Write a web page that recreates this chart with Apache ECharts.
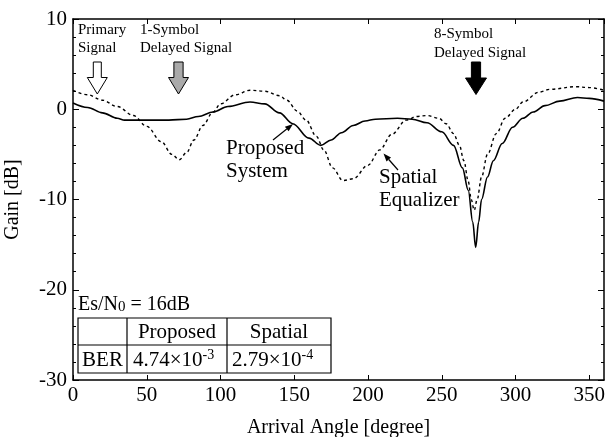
<!DOCTYPE html>
<html>
<head>
<meta charset="utf-8">
<script src="https://cdn.jsdelivr.net/npm/echarts@6/dist/echarts.min.js"></script>
<style>html,body{margin:0;padding:0;background:#fff;}#c{width:610px;height:437px;}</style>
</head>
<body>
<div id="c"></div>
<script>
// ---- data ----
var xTicks = [0, 50, 100, 150, 200, 250, 300, 350];
var yTicks = [-30, -20, -10, 0, 10];

var propAngle = [0, 10, 20, 30, 35, 50, 65, 77, 85, 95, 105, 120, 130, 140, 149, 160, 168, 175, 182, 190, 198, 205, 220, 230, 240, 250, 258, 264, 268, 271, 273, 275, 277, 281, 285, 291, 298, 305, 312, 320, 330, 342, 350, 360];
var propGain  = [0.7, 0.2, -0.4, -1.0, -1.2, -1.2, -1.2, -1.1, -0.8, -0.3, 0.3, 0.8, 0.6, -0.4, -1.6, -3.2, -4.0, -3.4, -2.6, -1.8, -1.3, -1.1, -1.0, -1.1, -1.5, -2.5, -4.0, -6.5, -9.0, -12.5, -15.3, -12.5, -10.0, -7.5, -5.7, -3.8, -2.0, -1.0, -0.3, 0.4, 0.9, 1.3, 1.2, 0.9];

var spatAngle = [0, 10, 20, 30, 41, 50, 60, 67, 72, 77, 82, 88, 95, 100, 110, 120, 130, 140, 145, 152, 158, 165, 170, 176, 183, 190, 200, 208, 216, 226, 233, 240, 248, 253, 258, 262, 265, 268, 270, 272, 274, 277, 281, 287, 293, 300, 305, 316, 323, 341, 350, 360];
var spatGain  = [2.1, 1.6, 1.0, 0.3, -0.7, -1.9, -3.6, -5.0, -5.6, -4.8, -3.4, -1.8, -0.3, 0.6, 1.6, 2.1, 2.0, 1.5, 1.0, -0.2, -1.2, -3.0, -4.5, -6.5, -7.9, -7.7, -6.2, -4.5, -2.8, -1.2, -0.8, -0.7, -1.0, -1.6, -2.7, -4.0, -5.7, -8.0, -10.0, -11.2, -10.0, -7.5, -5.0, -2.7, -1.0, 0.0, 0.8, 1.9, 2.2, 2.5, 2.4, 2.1];

var FONT = '"Liberation Serif", "DejaVu Serif", serif';

function pairs(xs, ys) { return xs.map(function (x, i) { return [x, ys[i]]; }); }

function arrowLine(x1, y1, x2, y2) {
  var dx = x2 - x1, dy = y2 - y1, L = Math.sqrt(dx * dx + dy * dy);
  var ux = dx / L, uy = dy / L, hl = 8, hw = 3;
  var bx = x2 - ux * hl, by = y2 - uy * hl;
  return [
    { type: 'line', shape: { x1: x1, y1: y1, x2: bx, y2: by }, style: { stroke: '#000', lineWidth: 1.2 } },
    { type: 'polygon', shape: { points: [[x2, y2], [bx - uy * hw, by + ux * hw], [bx + uy * hw, by - ux * hw]] }, style: { fill: '#000' } }
  ];
}

function blockArrow(cx, top, shaftBot, tip, sw, hw, fill) {
  return { type: 'polygon', shape: { points: [[cx - sw, top], [cx + sw, top], [cx + sw, shaftBot], [cx + hw, shaftBot], [cx, tip], [cx - hw, shaftBot], [cx - sw, shaftBot]] },
           style: { fill: fill, stroke: '#000', lineWidth: 1 } };
}

function txt(x, y, s, size, align) {
  return { type: 'text', z: 10, style: { text: s, x: x, y: y, fill: '#000', font: size + 'px ' + FONT, align: align || 'left', verticalAlign: 'middle' } };
}

var chart = echarts.init(document.getElementById('c'), null, { renderer: 'canvas' });

var axisCommon = {
  axisLine: { onZero: false, lineStyle: { color: '#000', width: 1.5 } },
  splitLine: { show: false }
};

var supRich = {
  n: { fontSize: 21, fontFamily: FONT, color: '#000' },
  s: { fontSize: 14, fontFamily: FONT, verticalAlign: 'top', padding: [0, 0, 10, 0], color: '#000' }
};

var graphics = [];
graphics.push(txt(78, 30, 'Primary', 15));
graphics.push(txt(78, 48, 'Signal', 15));
graphics.push(txt(140, 30, '1-Symbol', 15));
graphics.push(txt(140, 48, 'Delayed Signal', 15));
graphics.push(txt(434, 34, '8-Symbol', 15));
graphics.push(txt(434, 53, 'Delayed Signal', 15));
graphics.push(blockArrow(97.3, 62, 77.5, 94, 4, 10, '#fff'));
graphics.push(blockArrow(178.5, 62, 77.5, 94, 4.6, 10, '#aaaaaa'));
graphics.push(blockArrow(476, 62, 78, 94.5, 4.6, 10.5, '#000'));
graphics.push(txt(226, 148, 'Proposed', 21));
graphics.push(txt(226, 171, 'System', 21));
graphics = graphics.concat(arrowLine(273, 140, 293, 124));
graphics.push(txt(379, 177, 'Spatial', 21));
graphics.push(txt(379, 200, 'Equalizer', 21));
graphics = graphics.concat(arrowLine(398, 170, 383.5, 153.5));
graphics.push({ type: 'text', z: 10, style: { x: 78, y: 305, verticalAlign: 'middle', align: 'left',
  text: '{n|Es/N}{m|0}{n| = 16dB}',
  rich: { n: { fontSize: 20, fontFamily: FONT, color: '#000' }, m: { fontSize: 15, fontFamily: FONT, color: '#000', verticalAlign: 'bottom', padding: [4, 0, 0, 0] } } } });
var tL = 78, tR = 331, tT = 318, tM = 345, tB = 373, c1 = 127, c2 = 227;
graphics.push({ type: 'rect', shape: { x: tL, y: tT, width: tR - tL, height: tB - tT }, style: { fill: '#fff', stroke: '#000', lineWidth: 1.2 }, z: 5 });
graphics.push({ type: 'line', shape: { x1: tL, y1: tM, x2: tR, y2: tM }, style: { stroke: '#000', lineWidth: 1.2 }, z: 6 });
graphics.push({ type: 'line', shape: { x1: c1, y1: tT, x2: c1, y2: tB }, style: { stroke: '#000', lineWidth: 1.2 }, z: 6 });
graphics.push({ type: 'line', shape: { x1: c2, y1: tT, x2: c2, y2: tB }, style: { stroke: '#000', lineWidth: 1.2 }, z: 6 });
graphics.push(txt((c1 + c2) / 2, 332, 'Proposed', 21, 'center'));
graphics.push(txt((c2 + tR) / 2, 332, 'Spatial', 21, 'center'));
graphics.push(txt((tL + c1) / 2, 360, 'BER', 21, 'center'));
graphics.push({ type: 'text', z: 10, style: { x: 133, y: 360, verticalAlign: 'middle', align: 'left',
  text: '{n|4.74×10}{s|-3}', rich: supRich } });
graphics.push({ type: 'text', z: 10, style: { x: 232, y: 360, verticalAlign: 'middle', align: 'left',
  text: '{n|2.79×10}{s|-4}', rich: supRich } });

var option = {
  backgroundColor: '#fff',
  animation: false,
  grid: { left: 73, right: 6, top: 19, bottom: 57, containLabel: false, outerBoundsMode: 'none' },
  xAxis: [
    Object.assign({}, axisCommon, {
      type: 'value', min: xTicks[0], max: 360, interval: 50, position: 'bottom',
      name: 'Arrival Angle [degree]', nameLocation: 'middle', nameGap: 38,
      nameTextStyle: { fontFamily: FONT, fontSize: 20, color: '#000' },
      axisTick: { inside: true, length: 5, lineStyle: { color: '#000' } },
      axisLabel: { fontFamily: FONT, fontSize: 21, color: '#000', margin: 5, showMaxLabel: false,
        formatter: function (v) { return xTicks.indexOf(v) >= 0 ? String(v) : ''; } }
    }),
    Object.assign({}, axisCommon, {
      type: 'value', min: xTicks[0], max: 360, interval: 50, position: 'top',
      axisTick: { inside: true, length: 5, lineStyle: { color: '#000' } },
      axisLabel: { show: false }
    })
  ],
  yAxis: [
    Object.assign({}, axisCommon, {
      type: 'value', min: yTicks[0], max: yTicks[yTicks.length - 1], interval: 10, position: 'left',
      name: 'Gain [dB]', nameLocation: 'middle', nameGap: 50, nameRotate: 90,
      nameTextStyle: { fontFamily: FONT, fontSize: 20, color: '#000' },
      axisTick: { inside: true, length: 6, lineStyle: { color: '#000' } },
      minorTick: { show: true, splitNumber: 5, length: 3, lineStyle: { color: '#000' } },
      axisLabel: { fontFamily: FONT, fontSize: 21, color: '#000', margin: 6 }
    }),
    Object.assign({}, axisCommon, {
      type: 'value', min: yTicks[0], max: yTicks[yTicks.length - 1], interval: 10, position: 'right',
      axisTick: { inside: true, length: 6, lineStyle: { color: '#000' } },
      minorTick: { show: true, splitNumber: 5, length: 3, lineStyle: { color: '#000' } },
      axisLabel: { show: false }
    })
  ],
  series: [
    { type: 'line', name: 'Proposed System', data: pairs(propAngle, propGain), smooth: 0.35, smoothMonotone: 'x',
      symbol: 'none', lineStyle: { color: '#000', width: 1.6 }, xAxisIndex: 0, yAxisIndex: 0 },
    { type: 'line', name: 'Spatial Equalizer', data: pairs(spatAngle, spatGain), smooth: 0.35, smoothMonotone: 'x',
      symbol: 'none', lineStyle: { color: '#000', width: 1.4, type: [3, 3] }, xAxisIndex: 0, yAxisIndex: 0 }
  ],
  graphic: graphics
};
chart.setOption(option);
</script>
</body>
</html>
